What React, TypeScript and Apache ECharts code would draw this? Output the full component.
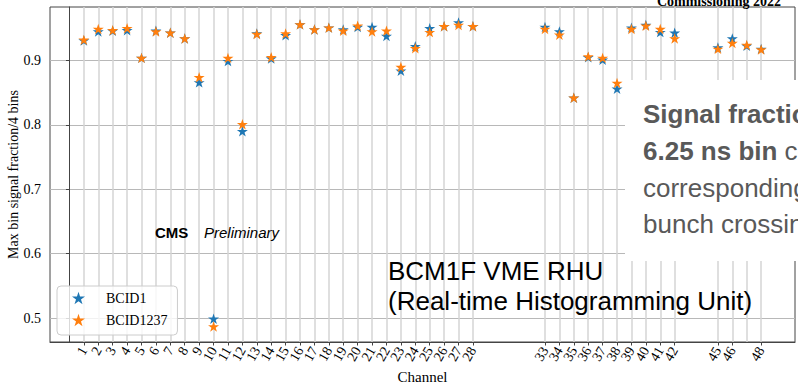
import React, { useEffect, useRef } from "react";
import * as echarts from "echarts";

// Channel numbers that were read out (gaps are unconnected channels)
const channels = [
  1, 2, 3, 4, 5, 6, 7, 8, 9, 10, 11, 12, 13, 14, 15, 16, 17, 18, 19, 20, 21,
  22, 23, 24, 25, 26, 27, 28, 33, 34, 35, 36, 37, 38, 39, 40, 41, 42, 45, 46,
  47, 48,
];

// Max-bin signal fraction over 4 bins, per channel
const bcid1 = [
  0.931, 0.945, 0.946, 0.947, 0.904, 0.946, 0.943, 0.934, 0.866, 0.499, 0.899,
  0.79, 0.942, 0.903, 0.939, 0.956, 0.948, 0.951, 0.948, 0.952, 0.952, 0.938,
  0.884, 0.922, 0.95, 0.953, 0.959, 0.953, 0.952, 0.945, 0.842, 0.905, 0.901,
  0.856, 0.951, 0.955, 0.944, 0.943, 0.92, 0.934, 0.923, 0.918,
];
const bcid1237 = [
  0.932, 0.949, 0.947, 0.95, 0.904, 0.945, 0.943, 0.934, 0.874, 0.487, 0.904,
  0.801, 0.941, 0.905, 0.942, 0.956, 0.948, 0.951, 0.946, 0.954, 0.945, 0.946,
  0.89, 0.919, 0.944, 0.953, 0.955, 0.953, 0.949, 0.94, 0.842, 0.906, 0.904,
  0.865, 0.949, 0.954, 0.949, 0.934, 0.918, 0.927, 0.924, 0.917,
];

const yTicks = [0.5, 0.6, 0.7, 0.8, 0.9];

const SERIF = "'Liberation Serif', 'Times New Roman', serif";
const SANS = "'Liberation Sans', Arial, sans-serif";

// Five-pointed star marker
function starSymbol(): string {
  const pts: string[] = [];
  for (let i = 0; i < 10; i++) {
    const r = i % 2 === 0 ? 1 : 0.381966;
    const a = -Math.PI / 2 + (i * Math.PI) / 5;
    pts.push(`${(r * Math.cos(a)).toFixed(4)} ${(r * Math.sin(a)).toFixed(4)}`);
  }
  return "path://M" + pts.join(" L") + " Z";
}

export default function App() {
  const ref = useRef<HTMLDivElement>(null);

  useEffect(() => {
    if (!ref.current) return;
    const chart = echarts.init(ref.current, undefined, { renderer: "svg" });
    const STAR = starSymbol();

    const noteColor = "#595959";
    const noteSize = 26;

    chart.setOption({
      animation: false,
      backgroundColor: "#ffffff",
      grid: {
        left: 50,
        top: 7,
        right: 3,
        bottom: 41,
        containLabel: false,
        outerBoundsMode: "none",
        show: true,
        borderColor: "#444444",
        borderWidth: 1,
        backgroundColor: "transparent",
      },
      xAxis: {
        type: "value",
        min: -1.35,
        max: 50.35,
        name: "Channel",
        nameLocation: "middle",
        nameGap: 27,
        nameMoveOverlap: false,
        nameTextStyle: { fontFamily: SERIF, fontSize: 15, color: "#000" },
        axisLine: { show: true, onZero: false, lineStyle: { color: "#444", width: 1 } },
        axisTick: {
          show: true,
          length: 3.5,
          customValues: channels,
          lineStyle: { color: "#444", width: 1 },
        },
        axisLabel: {
          customValues: channels,
          rotate: 60,
          margin: 6,
          showMinLabel: true,
          showMaxLabel: true,
          hideOverlap: false,
          fontFamily: SERIF,
          fontSize: 14,
          color: "#000",
          formatter: (v: number) => String(v),
        },
        splitLine: { show: true, lineStyle: { color: "#d4d4d4", width: 1.5 } },
      },
      yAxis: {
        type: "value",
        min: 0.463,
        max: 0.983,
        name: "Max bin signal fraction/4 bins",
        nameLocation: "middle",
        nameGap: 30,
        nameMoveOverlap: false,
        nameTextStyle: { fontFamily: SERIF, fontSize: 14, color: "#000" },
        axisLine: { show: true, lineStyle: { color: "#444", width: 1 } },
        axisTick: {
          show: true,
          length: 3.5,
          customValues: yTicks,
          lineStyle: { color: "#444", width: 1 },
        },
        axisLabel: {
          customValues: yTicks,
          margin: 9,
          showMinLabel: true,
          showMaxLabel: true,
          fontFamily: SERIF,
          fontSize: 14,
          color: "#000",
          formatter: (v: number) => v.toFixed(1),
        },
        splitLine: { show: true, lineStyle: { color: "#b8b8b8", width: 1 } },
      },
      legend: {
        orient: "vertical",
        left: 57,
        top: 286,
        padding: [5, 10, 8, 15],
        itemWidth: 13,
        itemHeight: 13,
        itemGap: 8,
        selectedMode: false,
        backgroundColor: "rgba(255,255,255,0.8)",
        borderColor: "#cccccc",
        borderWidth: 1,
        borderRadius: 4,
        textStyle: {
          fontFamily: SERIF,
          fontSize: 14,
          color: "#000",
          padding: [0, 0, 0, 16],
        },
        data: [
          { name: "BCID1", icon: STAR },
          { name: "BCID1237", icon: STAR },
        ],
      },
      series: [
        {
          name: "BCID1",
          type: "scatter",
          symbol: STAR,
          symbolSize: 11,
          symbolKeepAspect: true,
          itemStyle: { color: "#1f77b4", opacity: 1 },
          data: channels.map((c, i) => [c, bcid1[i]]),
          z: 3,
        },
        {
          name: "BCID1237",
          type: "scatter",
          symbol: STAR,
          symbolSize: 11,
          symbolKeepAspect: true,
          itemStyle: { color: "#ff7f0e", opacity: 1 },
          data: channels.map((c, i) => [c, bcid1237[i]]),
          z: 4,
        },
      ],
      graphic: [
        {
          type: "text",
          x: 781,
          y: 8,
          z: 50,
          style: {
            text: "Commissioning 2022",
            fontFamily: SERIF,
            fontWeight: "bold",
            fontSize: 14,
            fill: "#000",
            align: "right",
            verticalAlign: "bottom",
          },
        },
        {
          type: "text",
          x: 155,
          y: 232,
          z: 50,
          style: {
            text: "CMS",
            fontFamily: SANS,
            fontWeight: "bold",
            fontSize: 15,
            fill: "#000",
            verticalAlign: "middle",
          },
        },
        {
          type: "text",
          x: 204,
          y: 232,
          z: 50,
          style: {
            text: "Preliminary",
            fontFamily: SANS,
            fontStyle: "italic",
            fontSize: 15,
            fill: "#000",
            verticalAlign: "middle",
          },
        },
        {
          type: "text",
          x: 388,
          y: 271,
          z: 50,
          style: {
            text: "BCM1F VME RHU",
            fontFamily: SANS,
            fontSize: 26,
            fill: "#000",
            verticalAlign: "middle",
          },
        },
        {
          type: "text",
          x: 388,
          y: 301,
          z: 50,
          style: {
            text: "(Real-time Histogramming Unit)",
            fontFamily: SANS,
            fontSize: 26,
            fill: "#000",
            verticalAlign: "middle",
          },
        },
        {
          type: "rect",
          z: 60,
          shape: { x: 625, y: 80, width: 173, height: 181 },
          style: { fill: "#ffffff" },
        },
        {
          type: "text",
          x: 643,
          y: 114,
          z: 61,
          style: {
            text: "Signal fraction in the max.",
            fontFamily: SANS,
            fontWeight: "bold",
            fontSize: noteSize,
            fill: noteColor,
            verticalAlign: "middle",
          },
        },
        {
          type: "text",
          x: 643,
          y: 151,
          z: 61,
          style: {
            text: "{b|6.25 ns bin} compared to 4 bins",
            fontFamily: SANS,
            fontSize: noteSize,
            fill: noteColor,
            verticalAlign: "middle",
            rich: {
              b: {
                fontFamily: SANS,
                fontWeight: "bold",
                fontSize: noteSize,
                fill: noteColor,
              },
            },
          },
        },
        {
          type: "text",
          x: 643,
          y: 188,
          z: 61,
          style: {
            text: "corresponding to one",
            fontFamily: SANS,
            fontSize: noteSize,
            fill: noteColor,
            verticalAlign: "middle",
          },
        },
        {
          type: "text",
          x: 643,
          y: 224,
          z: 61,
          style: {
            text: "bunch crossing (25 ns)",
            fontFamily: SANS,
            fontSize: noteSize,
            fill: noteColor,
            verticalAlign: "middle",
          },
        },
      ],
    });

    return () => chart.dispose();
  }, []);

  return (
    <div
      ref={ref}
      style={{ position: "fixed", left: 0, top: 0, width: 798, height: 383 }}
    />
  );
}
